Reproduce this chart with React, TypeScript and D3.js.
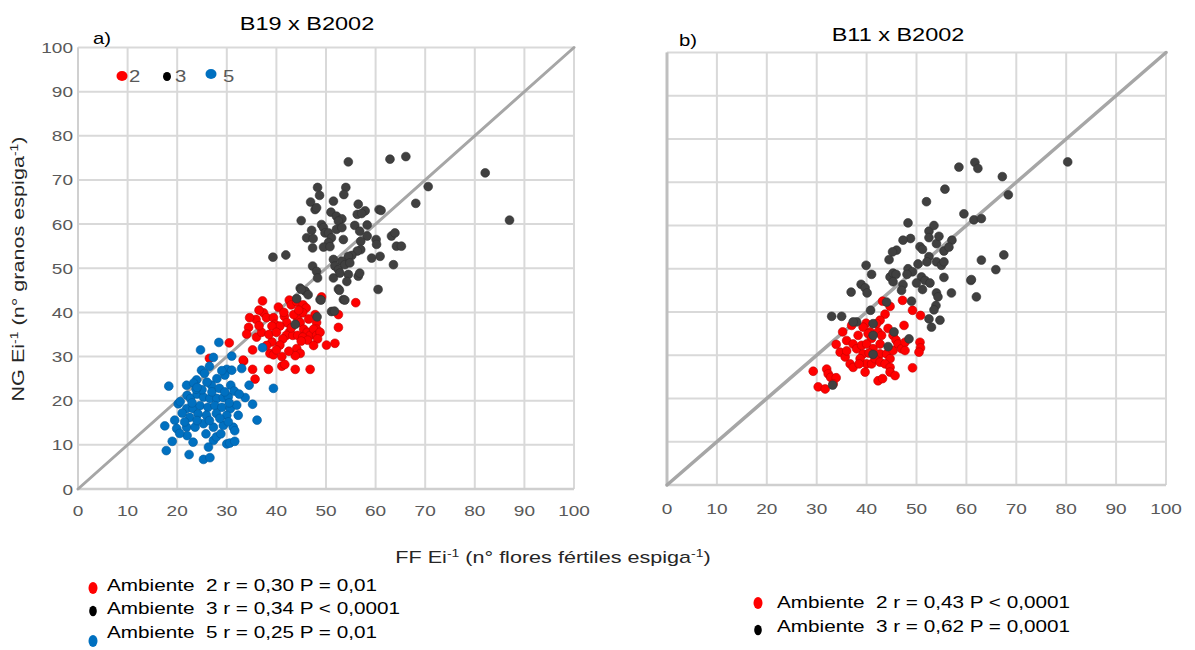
import React from 'react';
import * as d3 from 'd3';

// ---------- DATA ----------
const axisTicks = [0, 10, 20, 30, 40, 50, 60, 70, 80, 90, 100];

const panelTitles = ['B19 x B2002', 'B11 x B2002'];
const panelTags = ['a)', 'b)'];

// Panel a) Ambiente 2 (red)
const leftAmb2: [number, number][] = [
  [37.2,42.6],[42.6,42.8],[43.0,41.7],[44.1,42.4],[45.4,41.7],[46.0,41.0],[45.3,39.9],[49.1,43.5],[56.0,42.2],[52.5,39.5],
  [52.5,36.6],[47.8,39.5],[48.1,37.7],[48.1,36.2],[40.4,41.2],[37.4,39.9],[35.9,38.4],[34.6,38.8],[38.0,38.8],[39.4,38.8],
  [39.7,37.3],[41.6,39.1],[42.1,37.7],[40.7,36.9],[39.1,36.9],[34.4,36.6],[34.0,35.1],[36.0,34.4],[44.3,38.4],[44.8,37.7],
  [45.5,36.2],[46.2,35.5],[46.8,34.8],[47.5,36.2],[48.1,34.8],[48.8,35.5],[42.6,35.5],[42.0,34.8],[43.3,34.8],[44.3,34.8],
  [45.3,34.4],[46.3,33.7],[48.3,34.0],[41.3,34.0],[40.7,32.6],[50.1,32.6],[51.8,33.0],[39.1,33.3],[30.5,33.1],[35.2,31.5],
  [38.7,30.7],[39.4,30.4],[41.1,30.0],[44.1,31.8],[44.8,30.7],[43.8,30.2],[33.4,29.0],[35.2,27.1],[38.4,27.1],[41.1,27.8],
  [41.7,28.2],[43.8,27.1],[46.8,27.1],[35.7,24.9],[26.5,29.6],[33.3,29.2],[40.0,31.5],[42.5,31.2],[37.0,35.5],[38.5,35.0],
  [36.5,37.0],[43.5,39.5],[44.5,40.5],[46.5,38.5],[43.0,36.5],[40.0,35.5],[38.0,32.5],[45.0,33.5],[47.5,32.5],[41.5,40.0],
  [36.5,40.5]
];

// Panel a) Ambiente 3 (dark grey)
const leftAmb3: [number, number][] = [
  [54.5,74.1],[62.9,74.7],[66.1,75.3],[70.6,68.5],[68.1,64.7],[82.1,71.6],[87.0,60.9],[48.3,68.3],[48.7,66.5],[54.0,68.3],
  [53.6,66.7],[51.5,65.2],[46.9,65.0],[47.8,63.3],[48.1,63.7],[56.5,64.5],[56.3,62.2],[57.9,63.0],[57.2,62.4],[60.7,63.3],
  [45.0,60.8],[51.0,62.7],[52.1,61.8],[53.2,61.2],[52.5,60.7],[49.1,59.9],[49.5,59.2],[49.8,58.0],[47.1,58.6],[46.1,56.9],
  [47.4,56.7],[47.3,54.6],[50.5,58.0],[51.1,56.9],[50.5,55.8],[49.5,54.8],[50.8,54.9],[52.1,58.8],[53.2,59.2],[53.5,56.5],
  [55.8,59.7],[56.8,58.4],[58.3,59.8],[58.3,57.3],[57.0,56.1],[60.1,56.5],[60.2,55.4],[63.2,57.3],[63.9,58.0],[64.2,55.0],
  [65.2,55.0],[41.9,53.0],[39.3,52.5],[57.0,54.2],[56.3,53.9],[55.2,52.9],[54.5,52.7],[53.2,51.6],[51.5,52.0],[59.2,52.3],
  [60.9,52.7],[63.6,50.8],[51.8,50.5],[52.5,49.7],[53.8,50.8],[54.8,51.2],[54.5,48.6],[54.2,47.0],[56.5,48.2],[56.8,48.9],
  [47.3,50.5],[48.1,49.3],[48.3,47.8],[51.5,47.8],[52.8,48.9],[44.8,45.5],[45.8,44.8],[46.4,44.0],[52.5,45.3],[60.5,45.2],
  [48.8,42.9],[53.5,42.9],[51.1,40.2],[61.1,63.1],[45.0,45.2],[44.1,43.1],[49.0,42.8],[52.7,45.0],[53.8,42.8],[51.7,40.3],
  [48.2,39.0],[43.8,37.3]
];

// Panel a) Ambiente 5 (blue)
const leftAmb5: [number, number][] = [
  [28.4,33.2],[24.7,31.5],[27.3,29.8],[31.0,30.1],[33.0,27.3],[37.2,32.0],[24.9,26.9],[25.5,26.2],[30.0,27.1],[31.0,26.9],
  [29.6,25.8],[18.3,23.3],[21.9,23.5],[23.9,24.7],[23.3,24.0],[26.9,23.5],[30.8,23.5],[34.5,23.5],[39.4,22.8],[33.7,20.7],
  [35.2,19.2],[20.2,19.3],[22.0,21.2],[22.7,20.5],[24.0,21.5],[25.3,20.8],[26.6,20.5],[28.0,20.5],[29.3,20.7],[30.3,20.9],
  [21.9,18.2],[23.2,18.2],[24.6,18.9],[26.2,18.5],[27.6,18.9],[29.0,18.5],[30.7,18.2],[36.1,15.6],[32.3,16.7],[17.5,14.3],
  [19.5,15.6],[19.9,13.7],[21.9,14.0],[22.0,12.1],[23.6,14.0],[25.3,14.8],[27.3,14.0],[29.3,14.4],[31.3,14.0],[31.6,13.2],
  [25.9,16.7],[27.9,17.1],[30.0,16.7],[19.0,10.8],[17.8,8.7],[22.4,7.8],[25.3,6.7],[26.6,7.1],[27.3,11.0],[27.9,11.8],
  [30.0,10.2],[30.6,10.4],[31.6,10.8],[23.0,19.5],[24.2,17.0],[25.0,22.5],[26.0,24.2],[27.0,22.0],[28.5,22.8],[29.6,22.0],
  [31.5,22.2],[32.0,19.0],[22.5,16.2],[24.0,15.5],[26.5,15.5],[28.6,16.0],[30.3,15.2],[21.0,17.2],[20.6,19.8],[23.8,22.6],
  [28.0,25.0],[26.5,27.8],[24.0,23.0],[30.5,19.5],[21.5,15.2],[25.8,12.5],[28.8,12.5],[23.2,10.6],[20.5,12.6],[32.5,21.5],
  [29.0,26.8],[26.3,9.5]
];

// Panel b) Ambiente 2 (red)
const rightAmb2: [number, number][] = [
  [47.2,42.7],[43.2,42.5],[44.7,41.3],[49.2,40.4],[50.8,39.2],[43.7,39.5],[42.7,38.1],[42.0,37.3],[39.9,37.4],[39.3,36.5],
  [40.7,35.4],[37.0,36.9],[35.2,35.4],[42.3,35.4],[44.3,36.2],[43.0,34.6],[45.3,34.6],[45.9,33.5],[47.5,36.9],[38.3,34.6],
  [40.3,35.0],[41.0,33.9],[33.9,32.5],[36.0,33.4],[34.7,30.7],[35.7,29.6],[37.3,32.6],[38.0,31.5],[39.0,32.3],[39.3,30.3],
  [40.0,32.6],[41.3,31.5],[42.7,32.6],[42.7,30.3],[44.0,30.3],[45.3,31.1],[44.7,29.2],[46.3,32.6],[47.0,31.5],[47.7,33.0],
  [47.7,31.1],[50.7,33.0],[50.8,31.7],[50.5,30.7],[36.7,28.0],[37.3,27.2],[38.7,29.2],[40.0,28.0],[41.0,28.0],[41.7,29.2],
  [42.7,28.4],[43.7,28.0],[44.7,27.2],[39.7,26.1],[29.3,26.3],[32.0,26.8],[32.3,25.7],[32.8,24.9],[33.9,24.8],[33.3,23.4],
  [30.3,22.7],[31.7,22.2],[42.3,24.1],[43.2,24.6],[44.7,26.1],[45.7,25.3],[49.2,27.1],[36.0,31.0],[38.5,28.0],[40.5,30.5]
];

// Panel b) Ambiente 3 (dark grey)
const rightAmb3: [number, number][] = [
  [58.5,73.5],[61.7,74.6],[62.3,73.2],[55.7,68.4],[52.0,65.5],[59.5,62.7],[61.5,61.3],[63.0,61.6],[48.3,60.6],[52.5,58.7],
  [52.5,57.2],[48.8,57.0],[47.3,56.6],[54.0,55.8],[55.5,54.1],[57.1,56.6],[50.7,55.1],[51.2,54.5],[46.0,54.3],[44.5,52.1],
  [45.2,53.9],[63.0,52.0],[52.5,52.8],[52.1,51.6],[54.0,51.6],[55.0,50.8],[55.5,51.6],[50.3,51.1],[39.9,50.8],[41.0,48.7],
  [48.3,50.0],[49.2,49.3],[48.1,48.7],[44.7,48.1],[45.3,49.0],[45.9,48.7],[51.0,48.1],[51.7,47.3],[52.7,46.7],[50.0,46.7],
  [55.5,48.0],[60.9,47.3],[47.3,46.3],[47.0,45.0],[45.3,47.0],[36.9,44.6],[38.9,46.4],[39.7,45.6],[40.1,44.4],[51.2,45.2],
  [54.0,44.4],[54.3,43.5],[57.0,44.4],[62.0,43.5],[44.0,42.3],[49.0,42.5],[53.9,41.5],[53.5,40.5],[52.5,38.4],[54.7,38.1],
  [53.0,36.5],[33.0,39.0],[35.0,39.0],[38.0,37.7],[37.3,37.7],[40.8,40.4],[41.3,37.3],[41.3,34.6],[45.5,35.4],[44.3,32.0],
  [48.5,33.8],[41.3,30.2],[33.2,23.1],[80.3,74.7],[67.2,71.3],[68.4,67.1],[67.5,53.2],[65.9,49.8],[61.0,47.5],[53.5,60.0],
  [56.5,55.0],[54.5,57.5]
];

const insetLegendLabels = ['2', '3', '5'];
const legendLeftLabels = [
  'Ambiente  2 r = 0,30 P = 0,01',
  'Ambiente  3 r = 0,34 P < 0,0001',
  'Ambiente  5 r = 0,25 P = 0,01',
];
const legendRightLabels = [
  'Ambiente  2 r = 0,43 P < 0,0001',
  'Ambiente  3 r = 0,62 P = 0,0001',
];

// ---------- STYLE ----------
const FONT = '"Liberation Sans", Arial, sans-serif';
const SX = 1.27;
const RED = '#ff0000';
const GREY = '#404040';
const BLUE = '#0070c0';

type TProps = {
  x: number; y: number; anchor?: string; size?: number; fill?: string; rotate?: number; children: React.ReactNode;
};
const T = ({ x, y, anchor = 'start', size = 16, fill = '#000', rotate = 0, children }: TProps) => (
  <text
    transform={`translate(${x},${y}) rotate(${rotate}) scale(${SX},1)`}
    textAnchor={anchor}
    fontSize={size}
    fill={fill}
    fontFamily={FONT}
    style={{ whiteSpace: 'pre' }}
  >
    {children}
  </text>
);

type Series = { data: [number, number][]; fill: string; stroke: string };

type PanelProps = {
  x0: number; x1: number; y0: number; y1: number; series: Series[]; yLabels: boolean;
  leftAxisColor: string; leftAxisWidth: number; tickBaseline: number; diagWidth: number;
};

const Panel = ({ x0, x1, y0, y1, series, yLabels, leftAxisColor, leftAxisWidth, tickBaseline, diagWidth }: PanelProps) => {
  const xs = d3.scaleLinear().domain([0, 100]).range([x0, x1]);
  const ys = d3.scaleLinear().domain([0, 100]).range([y0, y1]);
  const diag = d3.line<number>().x(d => xs(d)).y(d => ys(d));
  return (
    <g>
      {axisTicks.map(t => (
        <line key={'v' + t} x1={xs(t)} x2={xs(t)} y1={ys(0)} y2={ys(100)} stroke="#d9d9d9" strokeWidth={2} />
      ))}
      {axisTicks.map(t => (
        <line key={'h' + t} x1={xs(0)} x2={xs(100)} y1={ys(t)} y2={ys(t)} stroke="#d9d9d9" strokeWidth={2} />
      ))}
      <line x1={xs(0)} x2={xs(100)} y1={ys(0)} y2={ys(0)} stroke="#cfcfcf" strokeWidth={2.5} />
      <line x1={xs(0)} x2={xs(0)} y1={ys(0)} y2={ys(100)} stroke={leftAxisColor} strokeWidth={leftAxisWidth} />
      <path d={diag([0, 100]) || ''} stroke="#a6a6a6" strokeWidth={diagWidth} fill="none" strokeLinecap="round" />
      {series.map((s, i) => (
        <g key={i}>
          {s.data.map((d, j) => (
            <circle key={j} cx={xs(d[0])} cy={ys(d[1])} r={4.4} fill={s.fill} stroke={s.stroke} strokeWidth={0.6} />
          ))}
        </g>
      ))}
      {axisTicks.map(t => (
        <T key={'xl' + t} x={xs(t)} y={tickBaseline} anchor="middle" size={15} fill="#595959">{String(t)}</T>
      ))}
      {yLabels && axisTicks.map(t => (
        <T key={'yl' + t} x={x0 - 5} y={ys(t) + 5.5} anchor="end" size={15} fill="#595959">{String(t)}</T>
      ))}
    </g>
  );
};

export default function App() {
  return (
    <svg width={1195} height={650} style={{ display: 'block', position: 'absolute', left: 0, top: 0 }}>
      <rect width={1195} height={650} fill="#fff" />
      <Panel
        x0={78} x1={574} y0={489} y1={47.5}
        yLabels={true}
        leftAxisColor="#d0d0d0" leftAxisWidth={2}
        tickBaseline={516} diagWidth={3}
        series={[
          { data: leftAmb2, fill: RED, stroke: '#c00000' },
          { data: leftAmb3, fill: GREY, stroke: '#303030' },
          { data: leftAmb5, fill: BLUE, stroke: '#005a9e' },
        ]}
      />
      <Panel
        x0={667} x1={1166} y0={485} y1={52.5}
        yLabels={false}
        leftAxisColor="#bfbfbf" leftAxisWidth={3}
        tickBaseline={514} diagWidth={3.5}
        series={[
          { data: rightAmb2, fill: RED, stroke: '#c00000' },
          { data: rightAmb3, fill: GREY, stroke: '#303030' },
        ]}
      />

      {/* titles */}
      <T x={307} y={30} anchor="middle" size={18.5}>{panelTitles[0]}</T>
      <T x={898} y={41} anchor="middle" size={18.5}>{panelTitles[1]}</T>
      <T x={93} y={44} size={16}>{panelTags[0]}</T>
      <T x={679} y={46} size={16}>{panelTags[1]}</T>

      {/* inset legend */}
      <ellipse cx={122} cy={76} rx={5.5} ry={5} fill={RED} />
      <T x={129} y={82} size={16} fill="#595959">{insetLegendLabels[0]}</T>
      <ellipse cx={167} cy={76.5} rx={4} ry={4.5} fill="#000" />
      <T x={175} y={82} size={16} fill="#595959">{insetLegendLabels[1]}</T>
      <ellipse cx={211} cy={74} rx={5.5} ry={5} fill={BLUE} />
      <T x={223} y={82} size={16} fill="#595959">{insetLegendLabels[2]}</T>

      {/* axis titles */}
      <text
        transform={`translate(24,269) rotate(-90) scale(${SX},1)`}
        textAnchor="middle" fontSize={17} fontFamily={FONT} fill="#262626"
      >
        <tspan>NG Ei</tspan><tspan fontSize={11} dy={-6}>-1</tspan>
        <tspan dy={6}> (n° granos espiga</tspan><tspan fontSize={11} dy={-6}>-1</tspan><tspan dy={6}>)</tspan>
      </text>
      <text
        transform={`translate(553,563) scale(${SX},1)`}
        textAnchor="middle" fontSize={17} fontFamily={FONT} fill="#262626"
      >
        <tspan>FF Ei</tspan><tspan fontSize={11} dy={-6}>-1</tspan>
        <tspan dy={6}> (n° flores fértiles espiga</tspan><tspan fontSize={11} dy={-6}>-1</tspan><tspan dy={6}>)</tspan>
      </text>

      {/* bottom legends */}
      <ellipse cx={93} cy={588} rx={4.5} ry={6} fill={RED} />
      <T x={107} y={591} size={16.3}>{legendLeftLabels[0]}</T>
      <ellipse cx={93} cy={611} rx={3.8} ry={5.2} fill="#000" />
      <T x={107} y={614} size={16.3}>{legendLeftLabels[1]}</T>
      <ellipse cx={93} cy={641} rx={4.5} ry={6} fill={BLUE} />
      <T x={107} y={638} size={16.3}>{legendLeftLabels[2]}</T>

      <ellipse cx={758} cy={603} rx={4.5} ry={6} fill={RED} />
      <T x={777} y={608} size={16.3}>{legendRightLabels[0]}</T>
      <ellipse cx={758} cy={630} rx={3.8} ry={5.2} fill="#000" />
      <T x={777} y={632} size={16.3}>{legendRightLabels[1]}</T>
    </svg>
  );
}
